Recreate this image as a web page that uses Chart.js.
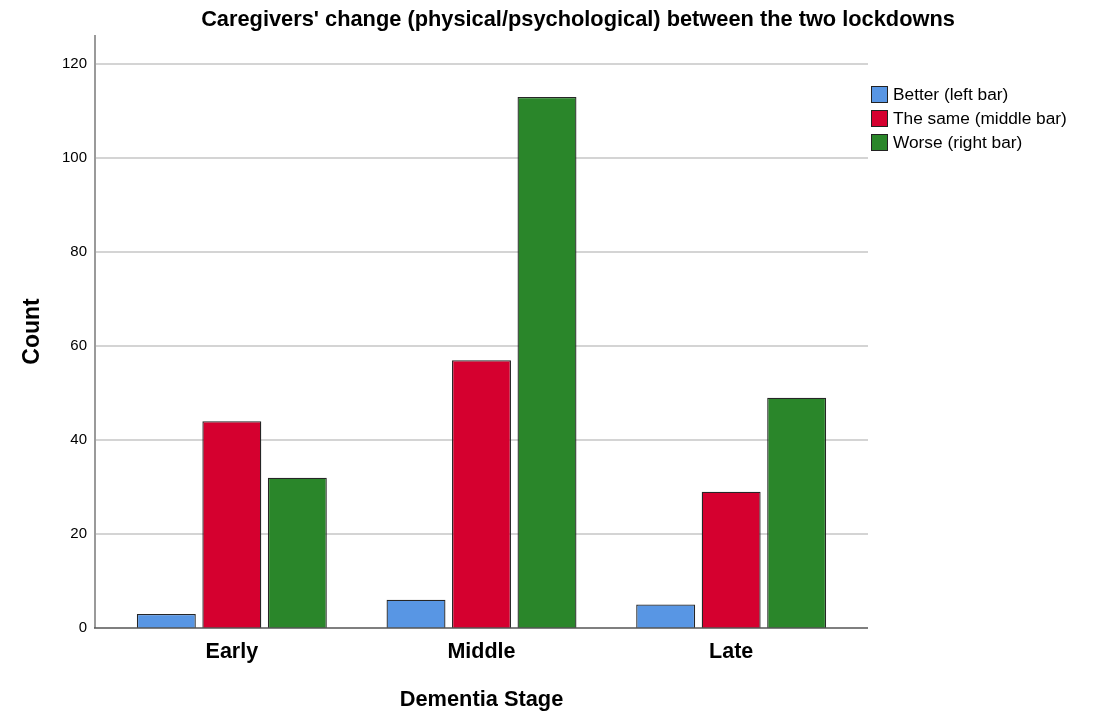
<!DOCTYPE html>
<html>
<head>
<meta charset="utf-8">
<script src="https://cdn.jsdelivr.net/npm/chart.js@4"></script>
<style>
  html, body { margin: 0; padding: 0; background: #fff; }
  #wrap { position: relative; width: 1099px; height: 713px; }
  #legend { position: absolute; left: 871px; top: 83px; font-family: "Liberation Sans", Arial, sans-serif; font-size: 17.3px; color: #000; }
  .li { display: flex; align-items: center; height: 23.7px; white-space: nowrap; }
  .sw { width: 15px; height: 15px; border: 1px solid #222; margin-right: 5px; box-sizing: content-box; flex: none; }
</style>
</head>
<body>
<div id="wrap">
  <canvas id="c" width="1099" height="713"></canvas>
  <div id="legend"></div>
</div>
<script>
const categories = ["Early", "Middle", "Late"];
const seriesNames = ["Better (left bar)", "The same (middle bar)", "Worse (right bar)"];
const better = [3, 6, 5];
const same = [44, 57, 29];
const worse = [32, 113, 49];
const yTicks = [0, 20, 40, 60, 80, 100, 120];

const colors = ["#5896e4", "#d5002f", "#2a862a"];
const titleText = "Caregivers' change (physical/psychological) between the two lockdowns";
const FONT = '"Liberation Sans", Arial, sans-serif';

const frame = {
  id: 'frame',
  beforeDatasetsDraw(chart) {
    const ctx = chart.ctx, y = chart.scales.y;
    ctx.save();
    ctx.strokeStyle = '#d4d4d4';
    ctx.lineWidth = 2;
    yTicks.forEach(v => {
      if (v === 0) return;
      const py = Math.round(y.getPixelForValue(v));
      ctx.beginPath(); ctx.moveTo(96, py); ctx.lineTo(868, py); ctx.stroke();
    });
    ctx.strokeStyle = '#9a9a9a';
    ctx.lineWidth = 2;
    ctx.beginPath(); ctx.moveTo(95, chart.chartArea.top); ctx.lineTo(95, y.getPixelForValue(0)); ctx.stroke();
    ctx.restore();
  },
  afterDatasetsDraw(chart) {
    const ctx = chart.ctx, y = chart.scales.y;
    ctx.save();
    ctx.strokeStyle = '#555';
    ctx.lineWidth = 1.5;
    const py = y.getPixelForValue(0);
    ctx.beginPath(); ctx.moveTo(94, py); ctx.lineTo(868, py); ctx.stroke();
    ctx.fillStyle = '#000';
    ctx.font = 'bold 21.8px ' + FONT;
    ctx.textAlign = 'center';
    ctx.textBaseline = 'middle';
    ctx.fillText(titleText, 578, 20);
    ctx.restore();
  }
};

const ds = [better, same, worse].map((d, i) => ({
  label: seriesNames[i],
  data: d,
  backgroundColor: colors[i],
  borderColor: '#262626',
  borderWidth: 1.3,
  categoryPercentage: 0.787,
  barPercentage: 0.9
}));

new Chart(document.getElementById('c'), {
  type: 'bar',
  data: { labels: categories, datasets: ds },
  options: {
    responsive: false,
    animation: false,
    layout: { padding: { left: 0, right: 243, top: 35, bottom: 0 } },
    plugins: { legend: { display: false }, title: { display: false }, tooltip: { enabled: false } },
    scales: {
      x: {
        grid: { display: false, drawTicks: false },
        border: { display: false },
        ticks: { color: '#000', font: { family: FONT, size: 21.5, weight: 'bold' }, padding: 11 },
        title: { display: true, text: 'Dementia Stage', color: '#000', font: { family: FONT, size: 21.8, weight: 'bold' }, padding: { top: 0, bottom: 0 } },
        afterFit(s) { s.height = 85; }
      },
      y: {
        min: 0, max: 126.2,
        grid: { display: false, drawTicks: false },
        border: { display: false },
        ticks: { stepSize: 20, color: '#000', font: { family: FONT, size: 15 }, padding: 20 },
        afterBuildTicks(s) { s.ticks = yTicks.map(v => ({ value: v })); },
        title: { display: true, text: 'Count', color: '#000', font: { family: FONT, size: 23, weight: 'bold' }, padding: { top: 19, bottom: 0 } },
        afterFit(s) { s.width = 107; }
      }
    }
  },
  plugins: [frame]
});

const lg = document.getElementById('legend');
seriesNames.forEach((n, i) => {
  const row = document.createElement('div'); row.className = 'li';
  const sw = document.createElement('span'); sw.className = 'sw'; sw.style.background = colors[i];
  const t = document.createElement('span'); t.textContent = n;
  row.appendChild(sw); row.appendChild(t); lg.appendChild(row);
});
</script>
</body>
</html>
